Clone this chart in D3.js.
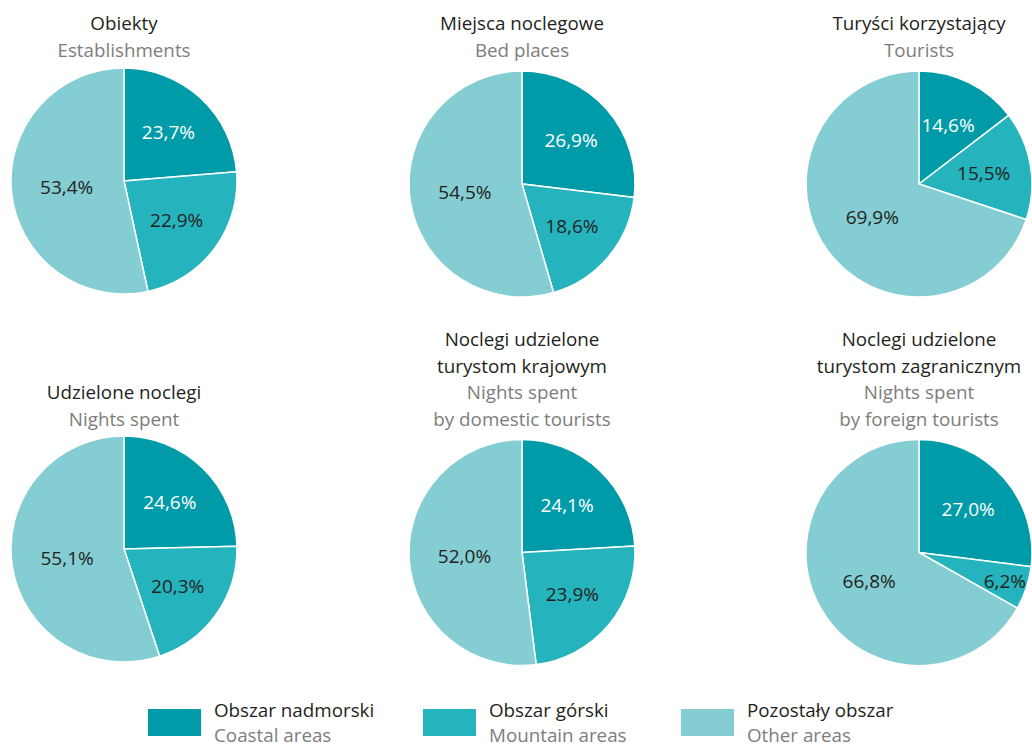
<!DOCTYPE html>
<html><head><meta charset="utf-8">
<script src="https://cdn.jsdelivr.net/npm/d3@7"></script>
<style>
html,body{margin:0;padding:0;background:#fff;}
svg{display:block;font-family:"Open Sans","Noto Sans",sans-serif;}
</style></head>
<body>
<svg id="chart" width="1032" height="745"></svg>
<script>
// ---- data ----
const categoriesPL = ["Obszar nadmorski", "Obszar górski", "Pozostały obszar"];
const categoriesEN = ["Coastal areas", "Mountain areas", "Other areas"];
const titlesPL = [["Obiekty"], ["Miejsca noclegowe"], ["Turyści korzystający"],
                  ["Udzielone noclegi"], ["Noclegi udzielone", "turystom krajowym"], ["Noclegi udzielone", "turystom zagranicznym"]];
const titlesEN = [["Establishments"], ["Bed places"], ["Tourists"],
                  ["Nights spent"], ["Nights spent", "by domestic tourists"], ["Nights spent", "by foreign tourists"]];
const establishments = [23.7, 22.9, 53.4];
const bedPlaces      = [26.9, 18.6, 54.5];
const tourists       = [14.6, 15.5, 69.9];
const nightsSpent    = [24.6, 20.3, 55.1];
const nightsDomestic = [24.1, 23.9, 52.0];
const nightsForeign  = [27.0, 6.2, 66.8];
const seriesList = [establishments, bedPlaces, tourists, nightsSpent, nightsDomestic, nightsForeign];

// ---- style / layout ----
const colors = ["#009ba8", "#25b4be", "#84cdd2"];
const labelColors = ["#ffffff", "#231f20", "#231f20"];
const centersX = [124, 522, 919];
const centersY = [[181, 184, 184], [549, 552.5, 552.5]];
const R = 113;
const FS = 18.8;

const svg = d3.select("#chart");
const pie = d3.pie().sort(null).value(d => d);
const arc = d3.arc().innerRadius(0).outerRadius(R);
const fmt = v => d3.format(".1f")(v).replace(".", ",") + "%";

seriesList.forEach((vals, i) => {
  const col = i % 3, row = Math.floor(i / 3);
  const cx = centersX[col], cy = centersY[row][col];
  const g = svg.append("g").attr("transform", `translate(${cx},${cy})`);
  const arcs = pie(vals);
  g.selectAll("path").data(arcs).join("path")
    .attr("d", arc)
    .attr("fill", (d, j) => colors[j])
    .attr("stroke", "#fff").attr("stroke-width", 1.5);
  g.selectAll("text.lbl").data(arcs).join("text")
    .attr("class", "lbl")
    .attr("transform", d => {
      const share = (d.endAngle - d.startAngle) / (2 * Math.PI);
      const lr = share < 0.1 ? R * 0.8 : (share > 0.5 ? R * 0.51 : R * 0.58);
      const a = (d.startAngle + d.endAngle) / 2;
      return `translate(${Math.sin(a) * lr},${-Math.cos(a) * lr})`;
    })
    .attr("text-anchor", "middle").attr("dy", "0.35em")
    .attr("font-size", 19)
    .attr("fill", (d, j) => labelColors[j])
    .text(d => fmt(d.data));

  // titles
  const pl = titlesPL[i], en = titlesEN[i];
  const lines = pl.map(t => ({t, c: "#231f20"})).concat(en.map(t => ({t, c: "#7d7d7d"})));
  const lastBase = row === 0 ? 57 : 426;
  const t = svg.append("text").attr("text-anchor", "middle").attr("font-size", FS);
  lines.forEach((ln, k) => {
    t.append("tspan").attr("x", cx)
      .attr("y", lastBase - (lines.length - 1 - k) * 26.7)
      .attr("fill", ln.c).text(ln.t);
  });
});

// legend
const legendX = [148, 423, 681];
const lg = svg.selectAll("g.leg").data(categoriesPL).join("g").attr("class", "leg")
  .attr("transform", (d, i) => `translate(${legendX[i]},0)`);
lg.append("rect").attr("x", 0).attr("y", 709).attr("width", 53).attr("height", 27)
  .attr("fill", (d, i) => colors[i]);
lg.append("text").attr("x", 66).attr("y", 717).attr("font-size", FS).attr("fill", "#231f20").text(d => d);
lg.append("text").attr("x", 66).attr("y", 742).attr("font-size", FS).attr("fill", "#7d7d7d").text((d, i) => categoriesEN[i]);
</script>
</body></html>
